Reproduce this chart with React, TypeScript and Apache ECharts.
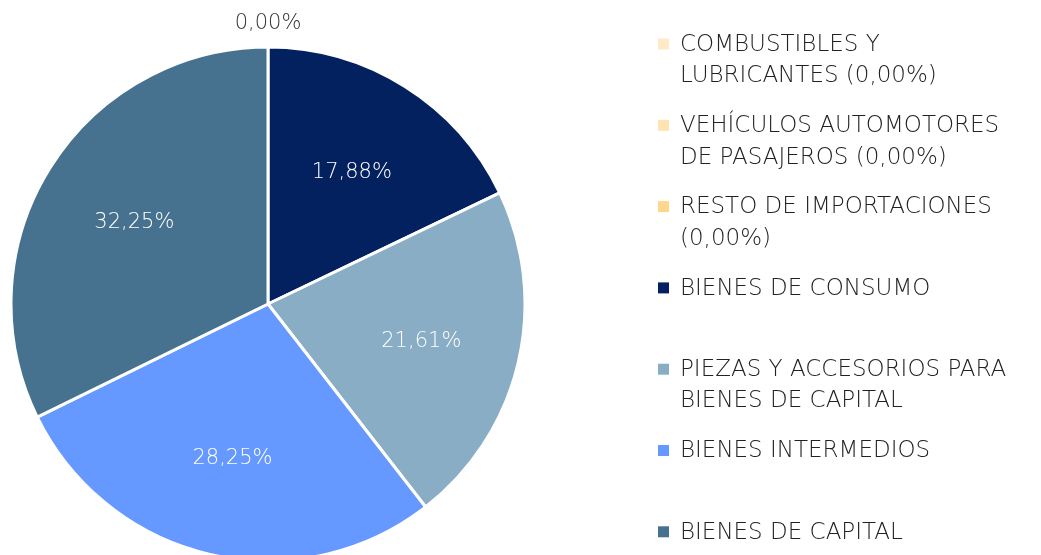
import React, { useEffect, useRef } from "react";
import * as echarts from "echarts";

const categories = [
  "COMBUSTIBLES Y LUBRICANTES (0,00%)",
  "VEHÍCULOS AUTOMOTORES DE PASAJEROS (0,00%)",
  "RESTO DE IMPORTACIONES (0,00%)",
  "BIENES DE CONSUMO",
  "PIEZAS Y ACCESORIOS PARA BIENES DE CAPITAL",
  "BIENES INTERMEDIOS",
  "BIENES DE CAPITAL",
];
const legendLines = [
  "COMBUSTIBLES Y\nLUBRICANTES (0,00%)",
  "VEHÍCULOS AUTOMOTORES\nDE PASAJEROS (0,00%)",
  "RESTO DE IMPORTACIONES\n(0,00%)",
  "BIENES DE CONSUMO\n ",
  "PIEZAS Y ACCESORIOS PARA\nBIENES DE CAPITAL",
  "BIENES INTERMEDIOS\n ",
  "BIENES DE CAPITAL\n ",
];
const values = [0, 0, 0, 17.88, 21.61, 28.25, 32.25];
const colors = ["#FFE9C6", "#FFE3B1", "#FFD78B", "#03215E", "#8AADC6", "#6699FF", "#46728F"];

const FONT = "'DejaVu Sans', sans-serif";
const WEIGHT = 200;
const fmt = (v: number) => v.toFixed(2).replace(".", ",") + "%";

export default function App() {
  const ref = useRef<HTMLDivElement>(null);
  useEffect(() => {
    if (!ref.current) return;
    const chart = echarts.init(ref.current, null, { renderer: "svg" });
    const data = categories.map((name, i) => ({
      name,
      value: values[i],
      itemStyle: { color: colors[i] },
    }));
    const center = [268, 304];
    chart.setOption({
      animation: false,
      legend: {
        orient: "vertical",
        left: 658,
        top: 27,
        height: 800,
        padding: 0,
        itemGap: 18.3,
        itemWidth: 17,
        itemHeight: 40,
        icon: "path://M0,0H11V11H0Z M17,40H17",
        itemStyle: { borderWidth: 0 },
        selectedMode: false,
        data: categories,
        formatter: (name: string) => legendLines[categories.indexOf(name)],
        textStyle: {
          fontFamily: FONT,
          fontWeight: WEIGHT,
          fontSize: 23,
          lineHeight: 31.5,
          color: "#222222",
        },
      },
      series: [
        {
          type: "pie",
          center,
          radius: 257,
          startAngle: 90,
          clockwise: true,
          silent: true,
          avoidLabelOverlap: false,
          itemStyle: { borderColor: "#ffffff", borderWidth: 3 },
          label: { show: false },
          labelLine: { show: false },
          emphasis: { disabled: true },
          data,
        },
        {
          type: "pie",
          center,
          radius: [52, 257],
          startAngle: 90,
          clockwise: true,
          silent: true,
          avoidLabelOverlap: false,
          itemStyle: { color: "rgba(0,0,0,0)", borderWidth: 0 },
          label: {
            show: true,
            position: "inside",
            color: "#ffffff",
            fontFamily: FONT,
            fontWeight: WEIGHT,
            fontSize: 21,
            formatter: (p: any) => (p.value > 0 ? fmt(p.value) : ""),
          },
          labelLine: { show: false },
          emphasis: { disabled: true },
          data: categories.map((name, i) => ({ name, value: values[i] })),
        },
        {
          type: "pie",
          center,
          radius: [267, 291],
          startAngle: 90,
          clockwise: true,
          silent: true,
          avoidLabelOverlap: false,
          itemStyle: { color: "rgba(0,0,0,0)", borderWidth: 0 },
          label: {
            show: true,
            position: "inside",
            color: "#333333",
            fontFamily: FONT,
            fontWeight: WEIGHT,
            fontSize: 21,
            formatter: (p: any) => (p.dataIndex === 0 ? fmt(p.value) : ""),
          },
          labelLine: { show: false },
          emphasis: { disabled: true },
          data: categories.map((name, i) => ({ name, value: values[i] })),
        },
      ],
    });
    return () => chart.dispose();
  }, []);
  return (
    <div
      ref={ref}
      style={{ position: "fixed", left: 0, top: 0, width: 1041, height: 555 }}
    />
  );
}
